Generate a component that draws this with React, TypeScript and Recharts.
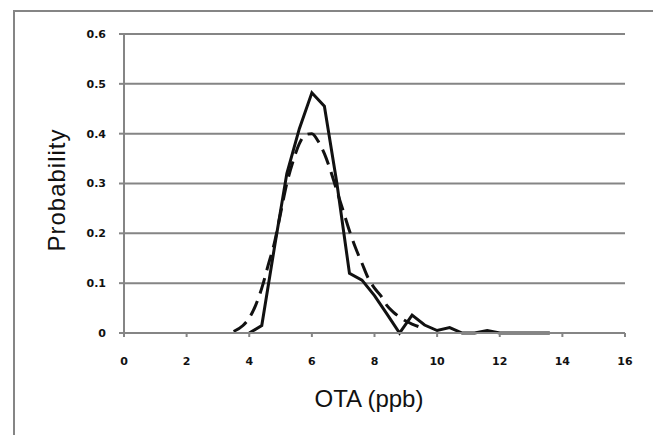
import { LineChart, Line, XAxis, YAxis, CartesianGrid } from 'recharts';

// solid line: observed distribution
const observedX = [4.0, 4.4, 4.8, 5.2, 5.6, 6.0, 6.4, 6.8, 7.2, 7.6, 8.0, 8.4, 8.8, 9.2, 9.6, 10.0, 10.4, 10.8, 11.2, 11.6, 12.0, 12.4, 12.8, 13.2, 13.6];
const observedY = [0, 0.015, 0.17, 0.32, 0.41, 0.482, 0.455, 0.3, 0.12, 0.106, 0.075, 0.038, 0, 0.036, 0.016, 0.005, 0.011, 0, 0, 0.005, 0, 0, 0, 0, 0];

// dashed line: fitted distribution
const fittedX = [3.5, 3.8, 4.0, 4.2, 4.4, 4.6, 4.8, 5.0, 5.2, 5.4, 5.6, 5.8, 6.0, 6.2, 6.4, 6.6, 6.8, 7.0, 7.2, 7.4, 7.6, 7.8, 8.0, 8.2, 8.4, 8.6, 8.8, 9.0, 9.2, 9.4, 9.6];
const fittedY = [0.003, 0.015, 0.03, 0.055, 0.09, 0.135, 0.18, 0.24, 0.3, 0.345, 0.38, 0.398, 0.4, 0.385, 0.36, 0.325, 0.285, 0.245, 0.205, 0.17, 0.14, 0.11, 0.09, 0.075, 0.055, 0.042, 0.032, 0.024, 0.018, 0.013, 0.009];

const xTicks = [0, 2, 4, 6, 8, 10, 12, 14, 16];
const yTicks = [0, 0.1, 0.2, 0.3, 0.4, 0.5, 0.6];

const observed = observedX.map((x, i) => ({ x, y: observedY[i] }));
const fitted = fittedX.map((x, i) => ({ x, y: fittedY[i] }));

const tickStyle = { fontFamily: 'DejaVu Sans', fontSize: 11, fontWeight: 'bold', fill: '#111' };
const gray = '#858585';

export default function App() {
  return (
    <div style={{ position: 'absolute', left: 0, top: 0, width: 653, height: 435, overflow: 'hidden', background: '#fff' }}>
      {/* outer frame, only top and left edges visible */}
      <div style={{ position: 'absolute', left: 13, top: 10, width: 700, height: 500, border: `2px solid ${gray}` }} />
      <div style={{ position: 'absolute', left: 0, top: 0 }}>
        <LineChart width={653} height={435} margin={{ top: 34, right: 28, bottom: 72, left: 0 }}>
          <CartesianGrid vertical={false} stroke={gray} strokeWidth={2} />
          <XAxis
            type="number"
            dataKey="x"
            domain={[0, 16]}
            ticks={xTicks}
            interval={0}
            height={30}
            tickSize={4}
            tickMargin={20}
            axisLine={{ stroke: gray, strokeWidth: 2 }}
            tickLine={{ stroke: gray, strokeWidth: 2 }}
            tick={tickStyle}
          />
          <YAxis
            type="number"
            dataKey="y"
            domain={[0, 0.6]}
            ticks={yTicks}
            interval={0}
            width={124}
            tickSize={5}
            tickMargin={13}
            axisLine={{ stroke: gray, strokeWidth: 2 }}
            tickLine={{ stroke: gray, strokeWidth: 2 }}
            tick={tickStyle}
            tickFormatter={(v: number) => (v === 0 ? '0' : v.toFixed(1))}
          />
          <Line
            data={fitted}
            dataKey="y"
            type="monotone"
            stroke="#111"
            strokeWidth={3}
            strokeDasharray="16 8"
            dot={false}
            isAnimationActive={false}
          />
          <Line
            data={observed}
            dataKey="y"
            type="linear"
            stroke="#111"
            strokeWidth={3}
            dot={false}
            isAnimationActive={false}
          />
        </LineChart>
      </div>
      <div
        style={{
          position: 'absolute',
          left: 57,
          top: 190,
          transform: 'translate(-50%, -50%) rotate(-90deg)',
          fontFamily: 'Liberation Sans',
          fontSize: 24,
          letterSpacing: 1,
          color: '#111',
          whiteSpace: 'nowrap',
          lineHeight: 1,
        }}
      >
        Probability
      </div>
      <div
        style={{
          position: 'absolute',
          left: 369,
          top: 399,
          transform: 'translate(-50%, -50%)',
          fontFamily: 'Liberation Sans',
          fontSize: 24,
          color: '#111',
          whiteSpace: 'nowrap',
          lineHeight: 1,
        }}
      >
        OTA (ppb)
      </div>
    </div>
  );
}
